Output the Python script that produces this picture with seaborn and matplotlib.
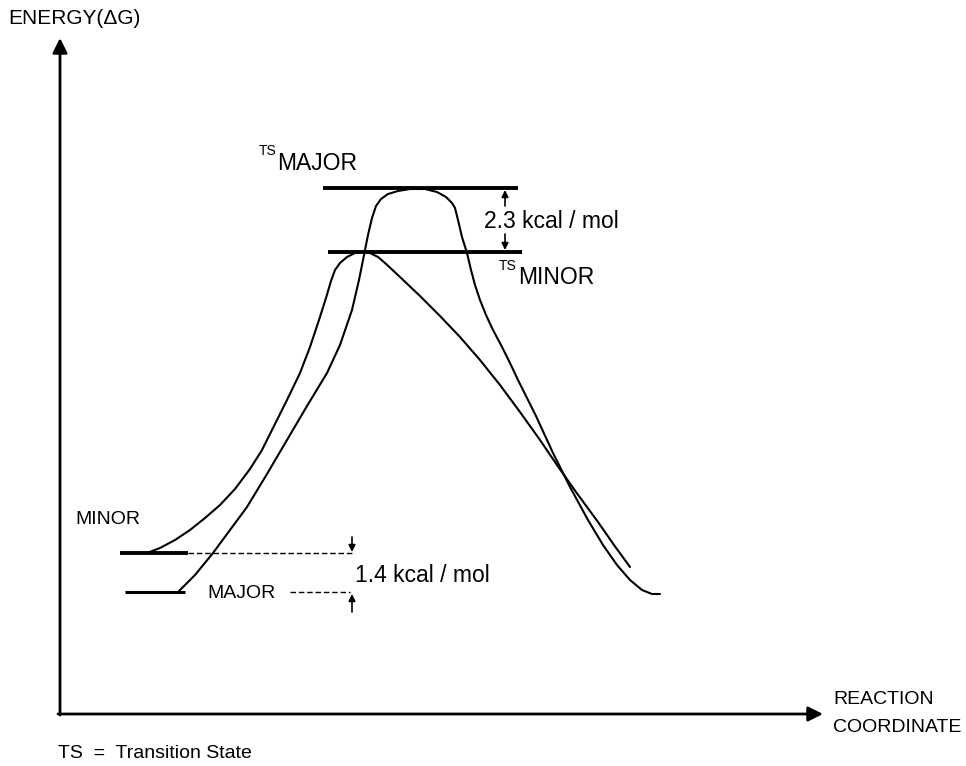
import pandas as pd
import matplotlib.pyplot as plt
import seaborn as sns

# curve points (x = reaction coordinate, y = image rows, down is lower energy)
minor_x = [147, 160, 175, 190, 205, 220, 235, 250, 262, 273, 287, 300, 310, 319, 326, 331, 335, 340, 347,
           355, 362, 370, 378, 385, 400, 420, 440, 460, 480, 500, 520, 540, 557, 576, 598, 614, 630]
minor_y = [553, 548, 540, 530, 518, 505, 489, 469, 450, 428, 400, 373, 347, 320, 298, 281, 270, 263, 257,
           253, 252, 253, 257, 263, 277, 296, 316, 337, 360, 385, 412, 440, 465, 492, 522, 545, 567]

major_x = [178, 195, 213, 230, 247, 267, 287, 307, 327, 340, 352, 359, 364, 368, 372, 376, 381, 388, 398,
           410, 425, 437, 446, 452, 455, 458, 462, 467, 471, 475, 480, 486, 493, 501, 510, 518, 536, 553,
           570, 588, 603, 617, 630, 642, 652, 660]
major_y = [592, 575, 553, 530, 507, 474, 440, 406, 373, 345, 310, 280, 255, 235, 218, 206, 199, 194, 191,
           189, 189, 192, 197, 203, 208, 220, 237, 253, 270, 285, 300, 315, 330, 345, 363, 380, 416, 453,
           487, 520, 545, 565, 580, 590, 594, 594]

# energy levels: y, x start, x end
ts_major = (188, 323, 518)
ts_minor = (252, 328, 522)
gs_minor = (553, 120, 188)
gs_major = (592, 125, 185)

sns.set_style("white")
plt.rcParams["font.family"] = ["Liberation Sans", "DejaVu Sans"]
plt.rcParams["text.color"] = "black"

fig = plt.figure(figsize=(9.66, 7.66), dpi=100)
ax = fig.add_axes([0, 0, 1, 1])
ax.set_xlim(0, 966)
ax.set_ylim(766, 0)
ax.axis("off")

df_minor = pd.DataFrame({"x": minor_x, "y": minor_y})
df_major = pd.DataFrame({"x": major_x, "y": major_y})
sns.lineplot(data=df_minor, x="x", y="y", sort=False, estimator=None, color="black", lw=1.5, ax=ax)
sns.lineplot(data=df_major, x="x", y="y", sort=False, estimator=None, color="black", lw=1.5, ax=ax)

for y, x0, x1 in [ts_major, ts_minor]:
    ax.plot([x0, x1], [y, y], color="black", lw=2.8, solid_capstyle="butt")
ax.plot([gs_minor[1], gs_minor[2]], [gs_minor[0]] * 2, color="black", lw=2.8, solid_capstyle="butt")
ax.plot([gs_major[1], gs_major[2]], [gs_major[0]] * 2, color="black", lw=2.2, solid_capstyle="butt")

# dashed guides for the ground-state gap
ax.plot([gs_minor[2], 352], [gs_minor[0]] * 2, color="black", lw=1, ls=(0, (4, 2)))
ax.plot([290, 350], [gs_major[0]] * 2, color="black", lw=1, ls=(0, (4, 2)))

# axes arrows
arrow = dict(arrowstyle="-|>", color="black", lw=2, mutation_scale=22, shrinkA=0, shrinkB=0)
ax.annotate("", xy=(60, 38), xytext=(60, 715), arrowprops=arrow)
ax.annotate("", xy=(823, 714), xytext=(58, 714), arrowprops=arrow)

# gap arrows
small = dict(arrowstyle="-|>", color="black", lw=1.2, mutation_scale=10, shrinkA=0, shrinkB=0)
ax.annotate("", xy=(505, 190), xytext=(505, 206), arrowprops=small)
ax.annotate("", xy=(505, 250), xytext=(505, 234), arrowprops=small)
ax.annotate("", xy=(352, 552), xytext=(352, 537), arrowprops=small)
ax.annotate("", xy=(352, 594), xytext=(352, 612), arrowprops=small)

# labels
ax.text(8, 18, "ENERGY(\u0394G)", fontsize=15, va="center", ha="left")
ax.text(259, 151, "TS", fontsize=10, va="center", ha="left")
ax.text(277, 163, "MAJOR", fontsize=16.5, va="center", ha="left")
ax.text(499, 266, "TS", fontsize=10, va="center", ha="left")
ax.text(518, 277, "MINOR", fontsize=16.5, va="center", ha="left")
ax.text(484, 221, "2.3 kcal / mol", fontsize=16.5, va="center", ha="left")
ax.text(355, 575, "1.4 kcal / mol", fontsize=16.5, va="center", ha="left")
ax.text(75, 520, "MINOR", fontsize=14, va="center", ha="left")
ax.text(207, 593, "MAJOR", fontsize=14, va="center", ha="left")
ax.text(833, 700, "REACTION", fontsize=14, va="center", ha="left")
ax.text(833, 727, "COORDINATE", fontsize=14, va="center", ha="left")
ax.text(58, 753, "TS  =  Transition State", fontsize=14, va="center", ha="left")

fig.savefig("out.png", dpi=100)
